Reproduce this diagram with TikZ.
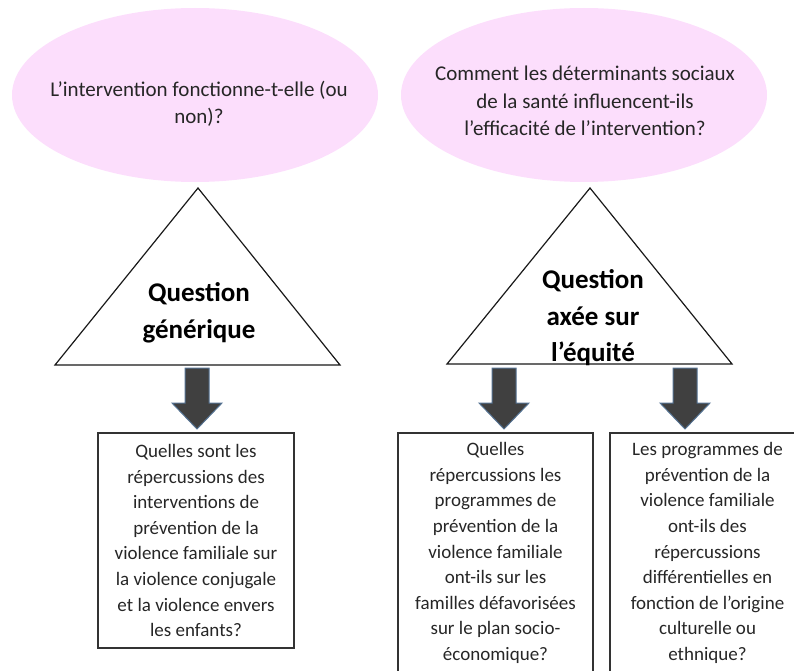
\documentclass[tikz,border=0pt]{standalone}
\usepackage{fontspec}
\setmainfont{Carlito}
\usetikzlibrary{shapes.geometric,positioning}
\definecolor{rose}{RGB}{252,222,252}
\definecolor{fleche}{RGB}{64,64,64}
\definecolor{bordfleche}{RGB}{84,114,146}

\begin{document}
\begin{tikzpicture}[x=1pt,y=-1pt,line join=miter]
	\tikzstyle{bulle}=[ellipse,fill=rose,minimum width=366pt,minimum height=174pt,inner sep=0pt]
	\tikzstyle{txt}=[align=center,font=\fontsize{21}{27.5}\selectfont,text=black!85]
	\tikzstyle{titre}=[align=center,font=\fontsize{27}{36.5}\selectfont\bfseries]
	\tikzstyle{tri}=[draw=black!90,line width=1.2pt]
	\tikzstyle{boite}=[draw=black!80,line width=1.4pt,align=center,inner sep=0pt,
		font=\fontsize{19}{25.6}\selectfont,text=black!85]
	\tikzstyle{bloc}=[fill=fleche,draw=bordfleche,line width=1pt]
	\clip (0,0) rectangle (794,671);
	% bulles
	\node[bulle] (E1) at (195,95) {};
	\node[bulle] (E2) at (584,95) {};
	\node[txt] (T1) at (199,104) {L’intervention fonctionne-t-elle (ou\\non)?};
	\node[txt] (T2) at (585,101) {Comment les déterminants sociaux\\de la santé influencent-ils\\l’efficacité de l’intervention?};
	% triangles
	\coordinate (A1) at (198,188);
	\coordinate (B1) at (55,365);
	\coordinate (C1) at (340,365);
	\coordinate (A2) at (590,188);
	\coordinate (B2) at (447,364);
	\coordinate (C2) at (732,364);
	\draw[tri] (A1) -- (C1) -- (B1) -- cycle;
	\draw[tri] (A2) -- (C2) -- (B2) -- cycle;
	\node[titre] (Q1) at (199,313) {Question\\générique};
	\node[titre] (Q2) at (593,318) {Question\\axée sur\\l’équité};
	% fleches
	\foreach \x in {197,504,685}
		\draw[bloc] (\x-12,368) -- (\x+12,368) -- (\x+12,403) -- (\x+25,403)
			-- (\x,429) -- (\x-25,403) -- (\x-12,403) -- cycle;
	% boites
	\node[boite,minimum width=196pt,minimum height=215pt] (R1) at (196,540.5)
		{Quelles sont les\\répercussions des\\interventions de\\prévention de la\\violence familiale sur\\la violence conjugale\\et la violence envers\\les enfants?};
	\node[boite,minimum width=195pt,minimum height=240pt] (R2) at (495.5,553)
		{Quelles\\répercussions les\\programmes de\\prévention de la\\violence familiale\\ont-ils sur les\\familles défavorisées\\sur le plan socio-\\économique?};
	\node[boite,minimum width=195pt,minimum height=240pt] (R3) at (707.5,553)
		{Les programmes de\\prévention de la\\violence familiale\\ont-ils des\\répercussions\\différentielles en\\fonction de l’origine\\culturelle ou\\ethnique?};
\end{tikzpicture}
\end{document}
